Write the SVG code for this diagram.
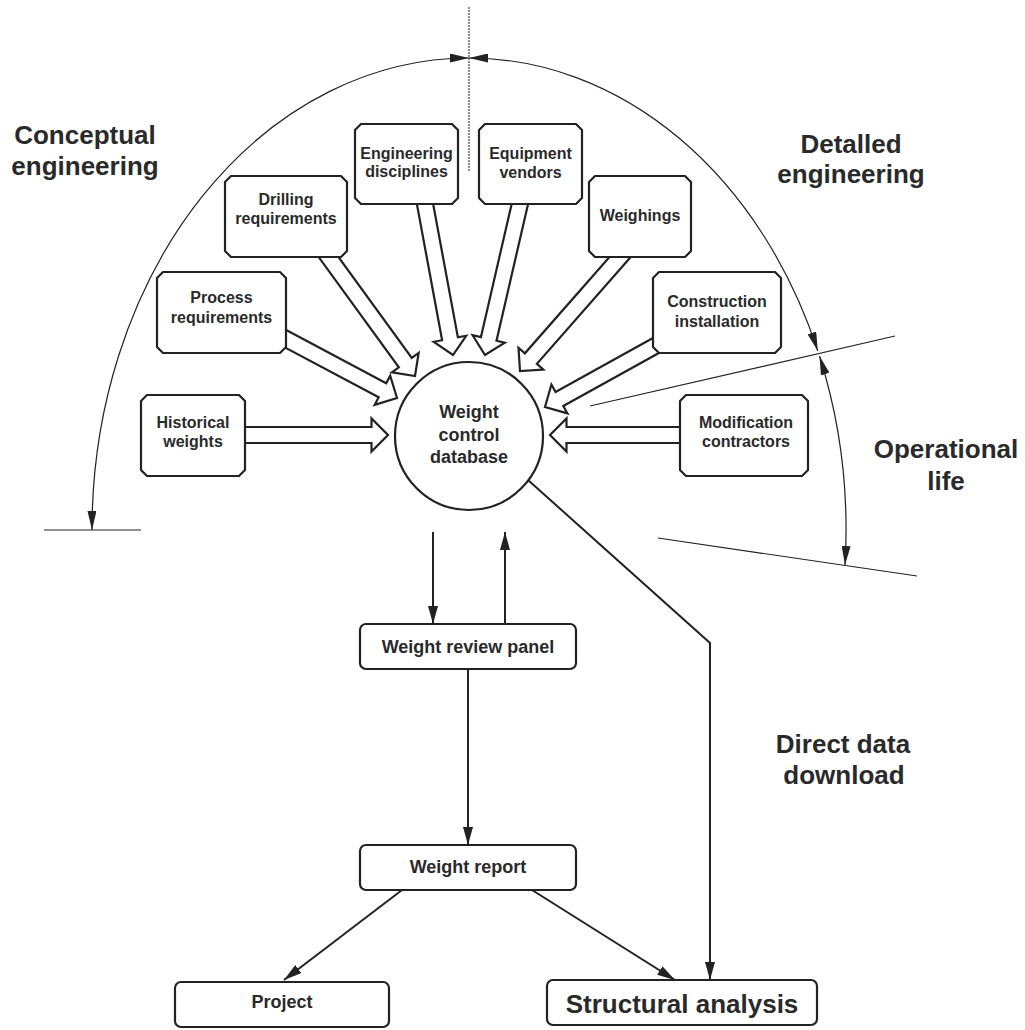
<svg xmlns="http://www.w3.org/2000/svg" width="1025" height="1030" viewBox="0 0 1025 1030">
<defs>
<style>
.bx{fill:#fff;stroke:#222;stroke-width:2.2;stroke-linejoin:round}
.ba{fill:#fff;stroke:#222;stroke-width:2.2;stroke-linejoin:miter}
.dim{fill:none;stroke:#222;stroke-width:1.2}
.ln{fill:none;stroke:#222;stroke-width:2}
.t{font-family:"Liberation Sans",Arial,sans-serif;font-weight:bold;fill:#2a2a2a;text-anchor:middle}
.s16{font-size:16px}
.s18{font-size:18px}
.s26{font-size:26px}
</style>
<marker id="dm" viewBox="0 0 19 9" refX="19" refY="4.5" markerWidth="19" markerHeight="9" markerUnits="userSpaceOnUse" orient="auto-start-reverse">
<path d="M0,0 L19,4.5 L0,9 Z" fill="#222"/>
</marker>
<marker id="am" viewBox="0 0 18 10" refX="18" refY="5" markerWidth="18" markerHeight="10" markerUnits="userSpaceOnUse" orient="auto">
<path d="M0,0 L18,5 L0,10 Z" fill="#222"/>
</marker>
</defs>
<rect width="1025" height="1030" fill="#fff"/>

<g id="dimensions">
<line x1="469" y1="7" x2="469" y2="172" stroke="#444" stroke-width="1.2" stroke-dasharray="2 1"/>
<path class="dim" d="M469,58 A377,472 0 0 0 92,530" marker-start="url(#dm)" marker-end="url(#dm)"/>
<path class="dim" d="M469,58 A377,472 0 0 1 817.8,351" marker-start="url(#dm)" marker-end="url(#dm)"/>
<path class="dim" d="M819.5,356 A377,472 0 0 1 845,565" marker-start="url(#dm)" marker-end="url(#dm)"/>
<line class="dim" x1="44" y1="530" x2="141" y2="530"/>
<line class="dim" x1="590" y1="406" x2="895" y2="336"/>
<line class="dim" x1="658" y1="538" x2="917" y2="576"/>
</g>

<g id="labels">
<text class="t s26" x="85" y="144">Conceptual</text>
<text class="t s26" x="85" y="175">engineering</text>
<text class="t s26" x="851" y="153">Detalled</text>
<text class="t s26" x="851" y="183">engineering</text>
<text class="t s26" x="946" y="458">Operational</text>
<text class="t s26" x="946" y="490">life</text>
<text class="t s26" x="843" y="753">Direct data</text>
<text class="t s26" x="844" y="784">download</text>
</g>

<g id="connectors">
<path class="ba" transform="translate(388,435)" d="M-148,-8 H-16.5 V-16.5 L0,0 L-16.5,16.5 V8 H-148 Z"/>
<path class="ba" transform="translate(550,435) rotate(180)" d="M-135,-8 H-16.5 V-16.5 L0,0 L-16.5,16.5 V8 H-135 Z"/>
<path class="ba" transform="translate(397,398) rotate(28)" d="M-134,-8 H-16.5 V-16.5 L0,0 L-16.5,16.5 V8 H-134 Z"/>
<path class="ba" transform="translate(415,376) rotate(54)" d="M-155,-8 H-16.5 V-16.5 L0,0 L-16.5,16.5 V8 H-155 Z"/>
<path class="ba" transform="translate(453,355) rotate(79.5)" d="M-161,-8 H-16.5 V-16.5 L0,0 L-16.5,16.5 V8 H-161 Z"/>
<path class="ba" transform="translate(485,355) rotate(103)" d="M-163,-8 H-16.5 V-16.5 L0,0 L-16.5,16.5 V8 H-163 Z"/>
<path class="ba" transform="translate(520,371) rotate(131.3)" d="M-160,-8 H-16.5 V-16.5 L0,0 L-16.5,16.5 V8 H-160 Z"/>
<path class="ba" transform="translate(545,407) rotate(151)" d="M-133,-8 H-16.5 V-16.5 L0,0 L-16.5,16.5 V8 H-133 Z"/>

<line class="ln" x1="433" y1="532" x2="433" y2="624" marker-end="url(#am)"/>
<line class="ln" x1="505" y1="624" x2="505" y2="532" marker-end="url(#am)"/>
<line class="ln" x1="468" y1="669" x2="468" y2="845" marker-end="url(#am)"/>
<line class="ln" x1="402" y1="890" x2="284" y2="980" marker-end="url(#am)"/>
<line class="ln" x1="532" y1="890" x2="675" y2="980" marker-end="url(#am)"/>
<path class="ln" d="M528,480 L710,643 L710,980" marker-end="url(#am)"/>
</g>

<g id="node-engineering">
<path class="bx" d="M361,124 H452 L458,130 V198 L452,204 H361 L355,198 V130 Z"/>
<text class="t s16" x="406.5" y="159">Engineering</text>
<text class="t s16" x="406.5" y="177">disciplines</text>
</g>
<g id="node-equipment">
<path class="bx" d="M485,124 H576 L582,130 V198 L576,204 H485 L479,198 V130 Z"/>
<text class="t s16" x="530.5" y="159">Equipment</text>
<text class="t s16" x="530.5" y="178">vendors</text>
</g>
<g id="node-drilling">
<path class="bx" d="M231,176 H341 L347,182 V251 L341,257 H231 L225,251 V182 Z"/>
<text class="t s16" x="286" y="205">Drilling</text>
<text class="t s16" x="286" y="224">requirements</text>
</g>
<g id="node-weighings">
<path class="bx" d="M595,176 H685 L691,182 V251 L685,257 H595 L589,251 V182 Z"/>
<text class="t s16" x="640" y="221">Weighings</text>
</g>
<g id="node-process">
<path class="bx" d="M163,272 H280 L286,278 V347 L280,353 H163 L157,347 V278 Z"/>
<text class="t s16" x="221.5" y="303">Process</text>
<text class="t s16" x="221.5" y="323">requirements</text>
</g>
<g id="node-construction">
<path class="bx" d="M659,272 H775 L781,278 V347 L775,353 H659 L653,347 V278 Z"/>
<text class="t s16" x="717" y="307">Construction</text>
<text class="t s16" x="717" y="327">installation</text>
</g>
<g id="node-historical">
<path class="bx" d="M147,395 H239 L245,401 V470 L239,476 H147 L141,470 V401 Z"/>
<text class="t s16" x="193" y="428">Historical</text>
<text class="t s16" x="193" y="447">weights</text>
</g>
<g id="node-modification">
<path class="bx" d="M686,395 H802 L808,401 V470 L802,476 H686 L680,470 V401 Z"/>
<text class="t s16" x="746" y="428">Modification</text>
<text class="t s16" x="746" y="447">contractors</text>
</g>
<g id="node-database">
<circle class="bx" cx="469" cy="436" r="74"/>
<text class="t s18" x="469" y="418">Weight</text>
<text class="t s18" x="469" y="441">control</text>
<text class="t s18" x="469" y="463">database</text>
</g>
<g id="node-review">
<rect class="bx" x="360" y="624" width="216" height="45" rx="6"/>
<text class="t s18" x="468" y="653">Weight review panel</text>
</g>
<g id="node-report">
<rect class="bx" x="360" y="845" width="216" height="45" rx="6"/>
<text class="t s18" x="468" y="873">Weight report</text>
</g>
<g id="node-project">
<rect class="bx" x="175" y="982" width="214" height="45" rx="6"/>
<text class="t s18" x="282" y="1008">Project</text>
</g>
<g id="node-structural">
<rect class="bx" x="547" y="980" width="270" height="45" rx="6"/>
<text class="t s26" x="682" y="1013">Structural analysis</text>
</g>
</svg>
